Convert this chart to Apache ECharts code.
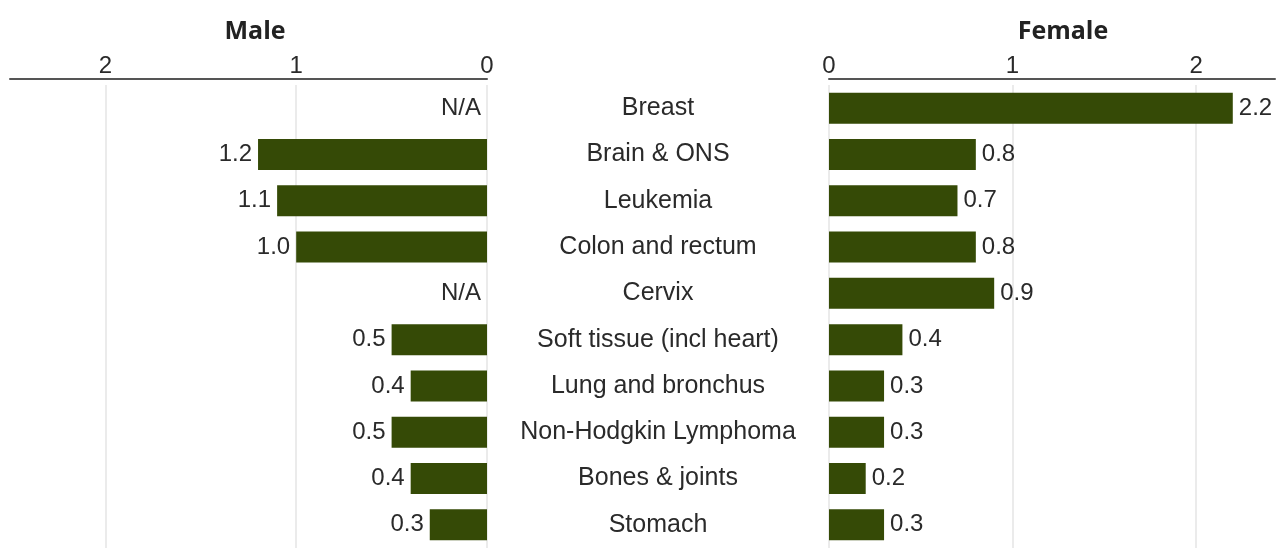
<!DOCTYPE html>
<html><head><meta charset="utf-8">
<script src="https://cdn.jsdelivr.net/npm/echarts@6/dist/echarts.min.js"></script>
<style>html,body{margin:0;padding:0;background:#fff;overflow:hidden}#c{width:1278px;height:548px}</style>
</head><body><div id="c"></div>
<script>
const categories = ["Breast","Brain & ONS","Leukemia","Colon and rectum","Cervix","Soft tissue (incl heart)","Lung and bronchus","Non-Hodgkin Lymphoma","Bones & joints","Stomach"];
const maleValues = [null,1.2,1.1,1.0,null,0.5,0.4,0.5,0.4,0.3];
const femaleValues = [2.2,0.8,0.7,0.8,0.9,0.4,0.3,0.3,0.2,0.3];
const maleTicks = [0,1,2];
const femaleTicks = [0,1,2];

const BAR = '#354a06';
const TXT = '#2a2a2a';
const LABEL_FONT = '"Liberation Sans", Arial, sans-serif';
const FS = 24;
const CAT_FS = 25;
const chart = echarts.init(document.getElementById('c'));
const maleData = maleValues.map(v => v === null ? {value:0, na:true} : {value:v});
const gridLines = ticks => ({silent:true, symbol:'none', z:1, label:{show:false},
  lineStyle:{color:'#e4e4e4', width:1.5, type:'solid'},
  data: ticks.map(t => ({xAxis:t}))});
chart.setOption({
  animation:false,
  title:[
    {text:'Male', left:250, top:14, textAlign:'center', textStyle:{fontFamily:'"Open Sans", "Noto Sans"',fontWeight:'bold',fontSize:25,color:'#222'}},
    {text:'Female', left:1058, top:14, textAlign:'center', textStyle:{fontFamily:'"Open Sans", "Noto Sans"',fontWeight:'bold',fontSize:25,color:'#222'}}
  ],
  grid:[
    {left:10, width:477, top:85, bottom:0},
    {left:829, width:449, top:85, bottom:0}
  ],
  xAxis:[
    {gridIndex:0, type:'value', position:'top', inverse:true, min:0, max:2.5, interval:1, offset:6,
     axisLine:{show:true,lineStyle:{color:'#555',width:2}}, axisTick:{show:false},
     axisLabel:{color:TXT,fontSize:FS,fontFamily:LABEL_FONT,margin:1,
       formatter:v=>maleTicks.includes(v)?String(v):''},
     splitLine:{show:false}},
    {gridIndex:1, type:'value', position:'top', min:0, max:2.43, interval:1, offset:6,
     axisLine:{show:true,lineStyle:{color:'#555',width:2}}, axisTick:{show:false},
     axisLabel:{color:TXT,fontSize:FS,fontFamily:LABEL_FONT,margin:1,
       formatter:v=>femaleTicks.includes(v)?String(v):''},
     splitLine:{show:false}}
  ],
  yAxis:[
    {gridIndex:0, type:'category', data:categories, inverse:true, position:'right',
     axisLine:{show:false}, axisTick:{show:false},
     axisLabel:{color:TXT,fontSize:CAT_FS,fontFamily:LABEL_FONT,align:'center',margin:171}},
    {gridIndex:1, type:'category', data:categories, inverse:true,
     axisLine:{show:false}, axisTick:{show:false}, axisLabel:{show:false}}
  ],
  series:[
    {type:'bar', xAxisIndex:0, yAxisIndex:0, data:maleData, barWidth:31,
     itemStyle:{color:BAR}, markLine:gridLines(maleTicks), z:3,
     label:{show:true, position:'left', distance:6, color:TXT, fontSize:FS, fontFamily:LABEL_FONT,
       formatter:p=>p.data.na?'N/A':p.value.toFixed(1)}},
    {type:'bar', xAxisIndex:1, yAxisIndex:1, data:femaleValues, barWidth:31,
     itemStyle:{color:BAR}, markLine:gridLines(femaleTicks), z:3,
     label:{show:true, position:'right', distance:6, color:TXT, fontSize:FS, fontFamily:LABEL_FONT,
       formatter:p=>p.value.toFixed(1)}}
  ]
});
</script></body></html>
